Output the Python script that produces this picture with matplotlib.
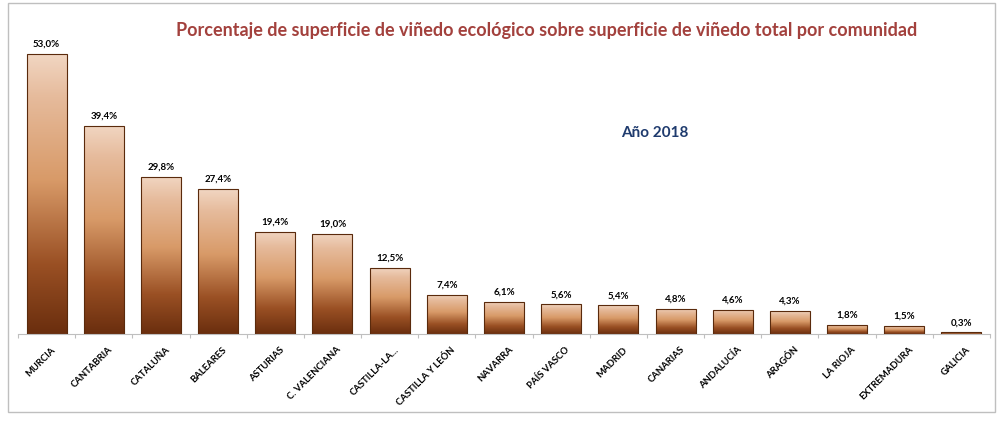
import numpy as np
import matplotlib.pyplot as plt
from matplotlib.colors import LinearSegmentedColormap
from matplotlib.patches import Rectangle

plt.rcParams['font.family'] = ['Lato', 'DejaVu Sans']

comunidades = ["MURCIA", "CANTABRIA", "CATALUÑA", "BALEARES", "ASTURIAS",
               "C. VALENCIANA", "CASTILLA-LA...", "CASTILLA Y LEÓN", "NAVARRA",
               "PAÍS VASCO", "MADRID", "CANARIAS", "ANDALUCÍA", "ARAGÓN",
               "LA RIOJA", "EXTREMADURA", "GALICIA"]
porcentaje = [53.0, 39.4, 29.8, 27.4, 19.4, 19.0, 12.5, 7.4, 6.1, 5.6, 5.4,
              4.8, 4.6, 4.3, 1.8, 1.5, 0.3]

fig = plt.figure(figsize=(10, 4.22), dpi=100)
ax = fig.add_axes([0.018, 0.2085, 0.972, 0.751])

# gradient: light peach top -> dark brown bottom
cmap = LinearSegmentedColormap.from_list(
    "bronce", [(0.0, "#6a2e0e"), (0.25, "#9a5024"), (0.55, "#d89a68"),
               (0.85, "#e6bb9c"), (1.0, "#f1d6c2")])
grad = np.linspace(0, 1, 256).reshape(-1, 1)

ancho = 0.7
x = np.arange(len(comunidades))
bars = ax.bar(x, porcentaje, width=ancho, color="none", edgecolor="#5a2a0c",
              linewidth=0.8, zorder=3)
for b, v in zip(bars, porcentaje):
    x0, y0 = b.get_x(), b.get_y()
    w, h = b.get_width(), b.get_height()
    im = ax.imshow(grad, cmap=cmap, origin="lower", aspect="auto",
                   extent=[x0, x0 + w, y0, y0 + h], zorder=2)
    im.set_clip_path(b)
    ax.text(b.get_x() + w / 2, v + 1.0, f"{v:.1f}%".replace(".", ","),
            ha="center", va="bottom", fontsize=7, fontweight="bold", color="black")

ax.set_xlim(-0.5, len(comunidades) - 0.5)
ax.set_ylim(0, 60)
ax.set_yticks([])
for s in ["top", "right", "left"]:
    ax.spines[s].set_visible(False)
ax.spines["bottom"].set_color("#bfbfbf")
ax.set_xticks(np.arange(-0.5, len(comunidades), 1.0))
ax.set_xticklabels([])
ax.tick_params(axis="x", length=3, color="#bfbfbf")
for i, c in enumerate(comunidades):
    ax.annotate(c, xy=(i, 0), xytext=(3, -8), textcoords="offset points",
                rotation=45, ha="right", va="top", rotation_mode="anchor",
                fontsize=6.8, fontweight="bold", color="black",
                annotation_clip=False)

fig.text(0.547, 0.927, "Porcentaje de superficie de viñedo ecológico sobre superficie de viñedo total por comunidad",
         ha="center", va="center", fontsize=13, fontweight="bold", color="#a3413d")
fig.text(0.655, 0.685, "Año 2018", ha="center", va="center", fontsize=11,
         fontweight="bold", color="#1f3b6e")

fig.patches.append(Rectangle((0.008, 0.024), 0.987, 0.97, transform=fig.transFigure,
                             fill=False, edgecolor="#bfbfbf", linewidth=1))

fig.savefig("out.png", dpi=100)
